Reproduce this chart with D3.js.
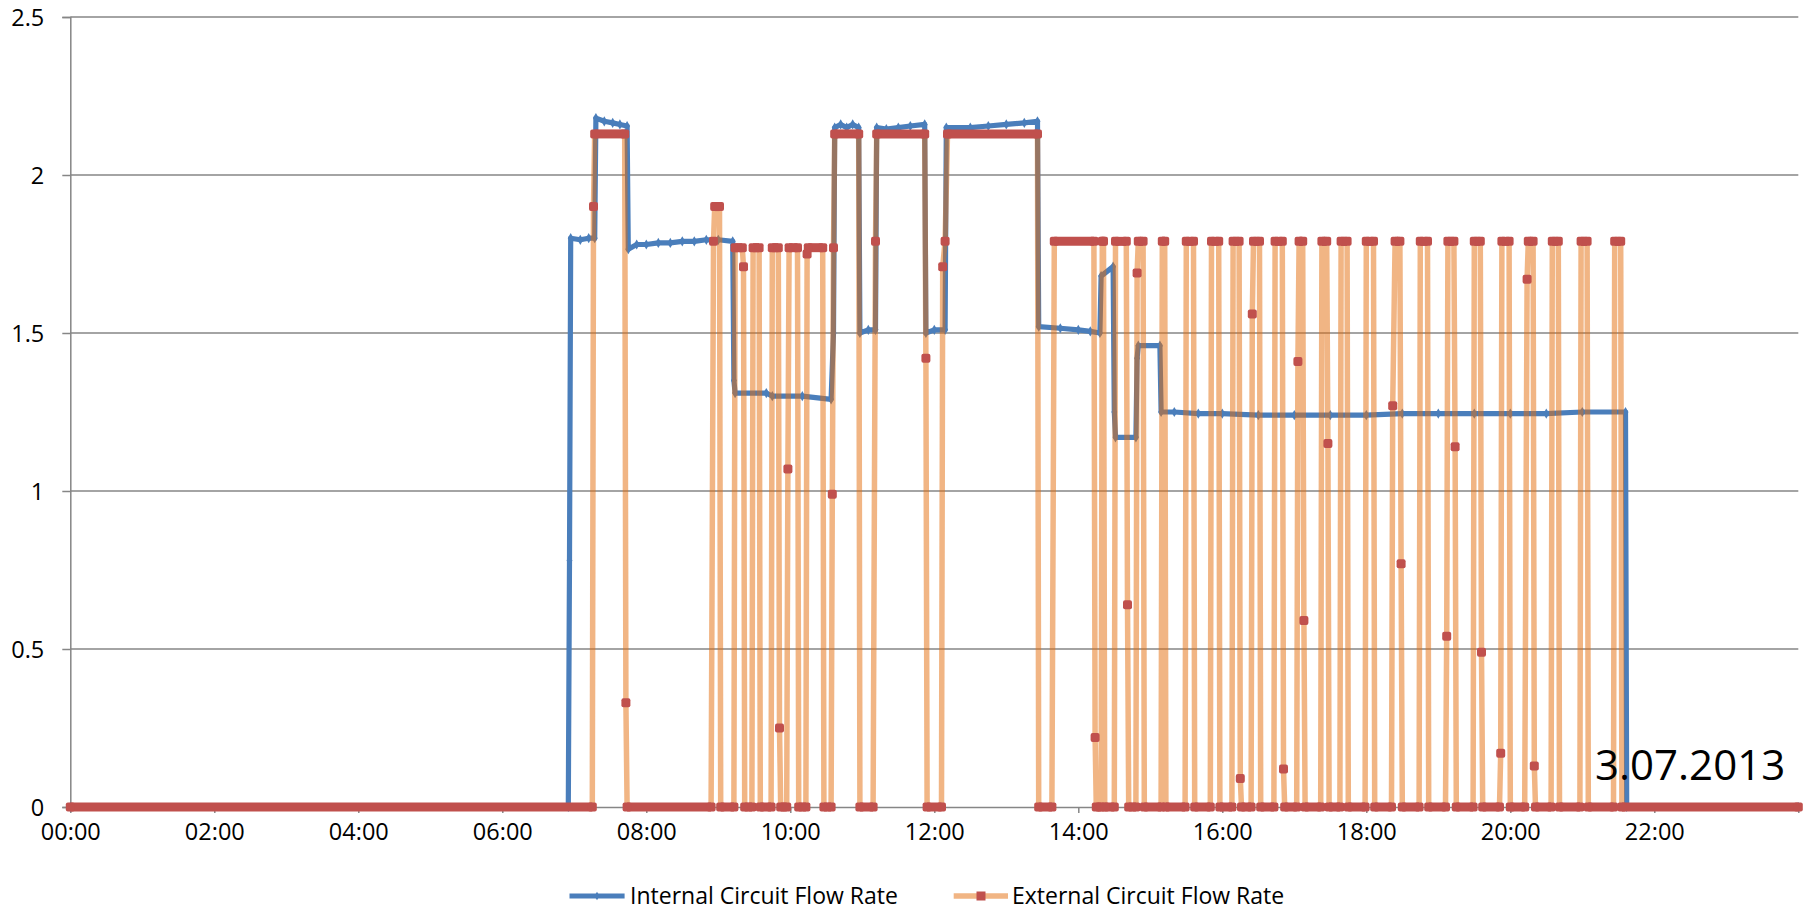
<!DOCTYPE html>
<meta charset="utf-8">
<style>
body { margin: 0; background: #fff; }
svg text { font-family: "Open Sans", sans-serif; fill: #000; }
.axis path, .axis line { stroke: #868686; stroke-width: 1.5px; }
.grid line { stroke: #868686; stroke-width: 1.5px; }
</style>
<body>
<svg width="1808" height="911"></svg>
</body>
<script src="https://cdn.jsdelivr.net/npm/d3@7"></script>
<script>

// Internal circuit flow rate (blue)
var int_times = ["00:00","06:55","06:56","06:57","07:05","07:12","07:17","07:18","07:25","07:32","07:38","07:44","07:45","07:52",
    "08:00","08:10","08:20","08:30","08:40","08:50","09:00","09:12","09:13","09:14","09:40","09:45","10:10","10:34","10:36","10:37",
    "10:42","10:47","10:52","10:57","10:58","11:05","11:11","11:12","11:20","11:30","11:40","11:52","11:53","12:00","12:09","12:10",
    "12:30","12:45","13:00","13:15","13:26","13:27","13:45","14:00","14:10","14:18","14:19","14:29","14:30","14:31","14:48","14:49",
    "14:50","15:08","15:09","15:20","15:40","16:00","16:30","17:00","17:30","18:00","18:30","19:00","19:30","20:00","20:30","21:00",
    "21:36","21:37","24:00"];
var int_values = [0,0,0.78,1.80,1.795,1.80,1.80,2.18,2.17,2.165,2.16,2.155,1.765,1.78,
    1.78,1.785,1.785,1.79,1.79,1.795,1.795,1.79,1.35,1.31,1.31,1.30,1.30,1.29,1.50,2.15,
    2.16,2.15,2.16,2.15,1.50,1.51,1.51,2.15,2.145,2.15,2.155,2.16,1.50,1.51,1.51,2.15,
    2.15,2.155,2.16,2.165,2.17,1.52,1.515,1.51,1.505,1.50,1.68,1.71,1.25,1.17,1.17,1.42,
    1.46,1.46,1.25,1.25,1.245,1.245,1.24,1.24,1.24,1.24,1.245,1.245,1.245,1.245,1.245,1.25,
    1.25,0,0];

// External circuit flow rate (orange line, red markers)
var ext_times = ["00:00",
    "07:15","07:16","07:17","07:42","07:43","07:44",
    "08:54","08:56","08:57","09:01","09:02",
    "09:13","09:14","09:20","09:21","09:22",
    "09:28","09:29","09:34","09:35",
    "09:44","09:45","09:50","09:51","09:52",
    "09:57","09:58","09:59","10:06","10:07",
    "10:13","10:14","10:15","10:27","10:28",
    "10:34","10:35","10:36","10:37","10:57","10:58",
    "11:09","11:11","11:12","11:52","11:53","11:54",
    "12:06","12:07","12:09","12:11","13:26","13:27",
    "13:38","13:40","14:13","14:14","14:15",
    "14:19","14:20","14:21","14:22",
    "14:30","14:31","14:40","14:41","14:42",
    "14:48","14:49","14:50","14:54","14:55",
    "15:09","15:10","15:12","15:13",
    "15:29","15:30","15:36","15:37",
    "15:50","15:51","15:57","15:58",
    "16:08","16:09","16:14","16:15","16:16",
    "16:24","16:25","16:26","16:31","16:32",
    "16:43","16:44","16:50","16:51","16:52",
    "17:02","17:03","17:04","17:07","17:08","17:09",
    "17:22","17:23","17:27","17:28","17:29",
    "17:38","17:39","17:44","17:45",
    "17:59","18:00","18:06","18:07",
    "18:21","18:22","18:24","18:28","18:29","18:30",
    "18:44","18:45","18:51","18:52",
    "19:06","19:07","19:08","19:13","19:14","19:15",
    "19:29","19:30","19:35","19:36","19:37",
    "19:51","19:52","19:53","19:59","20:00",
    "20:12","20:14","20:15","20:19","20:20","20:21",
    "20:34","20:35","20:40","20:41",
    "20:58","20:59","21:04","21:05",
    "21:26","21:27","21:32","21:33",
    "24:00"];
var ext_values = [0,
    0,1.90,2.13,2.13,0.33,0,
    0,1.79,1.90,1.90,0,
    0,1.77,1.77,1.71,0,
    0,1.77,1.77,0,
    0,1.77,1.77,0.25,0,
    0,1.07,1.77,1.77,0,
    0,1.75,1.77,1.77,0,
    0,0.99,1.77,2.13,2.13,0,
    0,1.79,2.13,2.13,1.42,0,
    0,1.71,1.79,2.13,2.13,0,
    0,1.79,1.79,0.22,0,
    0,1.79,1.79,0,
    0,1.79,1.79,0.64,0,
    0,1.69,1.79,1.79,0,
    0,1.79,1.79,0,
    0,1.79,1.79,0,
    0,1.79,1.79,0,
    0,1.79,1.79,0.09,0,
    0,1.56,1.79,1.79,0,
    0,1.79,1.79,0.12,0,
    0,1.41,1.79,1.79,0.59,0,
    0,1.79,1.79,1.15,0,
    0,1.79,1.79,0,
    0,1.79,1.79,0,
    0,1.27,1.79,1.79,0.77,0,
    0,1.79,1.79,0,
    0,0.54,1.79,1.79,1.14,0,
    0,1.79,1.79,0.49,0,
    0,0.17,1.79,1.79,0,
    0,1.67,1.79,1.79,0.13,0,
    0,1.79,1.79,0,
    0,1.79,1.79,0,
    0,1.79,1.79,0,
    0];

var y_ticks = [0, 0.5, 1, 1.5, 2, 2.5];
var series_names = ["Internal Circuit Flow Rate", "External Circuit Flow Rate"];
var date_label = "3.07.2013";

var svg = d3.select("svg");

function to_date(s) {
    var p = s.split(":");
    return new Date(2013, 6, 3, +p[0], +p[1]);
}

var x = d3.scaleTime()
    .domain([to_date("00:00"), to_date("24:00")])
    .range([70.3, 1798.3]);
var y = d3.scaleLinear()
    .domain([0, 2.5])
    .range([807, 17]);

var int_data = int_times.map(function(t, i) { return {t: to_date(t), v: int_values[i]}; });
var ext_data = ext_times.map(function(t, i) { return {t: to_date(t), v: ext_values[i]}; });

// gridlines
svg.append("g").attr("class", "grid")
    .selectAll("line")
    .data(y_ticks.filter(function(d) { return d > 0; }))
    .enter().append("line")
    .attr("x1", x.range()[0])
    .attr("x2", x.range()[1])
    .attr("y1", function(d) { return y(d); })
    .attr("y2", function(d) { return y(d); });

// y axis
var y_axis = svg.append("g").attr("class", "axis")
    .attr("transform", "translate(" + x.range()[0] + ",0)")
    .call(d3.axisLeft(y).tickValues(y_ticks).tickSize(8).tickPadding(18).tickFormat(d3.format("")));
y_axis.selectAll("text").style("font-size", "23.5px").attr("dy", "0.36em");

// x axis
var x_axis = svg.append("g").attr("class", "axis")
    .attr("transform", "translate(0," + y(0) + ")")
    .call(d3.axisBottom(x)
        .ticks(d3.timeHour.every(2))
        .tickSize(6)
        .tickPadding(27)
        .tickSizeOuter(0)
        .tickFormat(function(d) { return d.getDate() == 4 ? "" : d3.timeFormat("%H:%M")(d); }));
x_axis.selectAll("text").style("font-size", "23.5px").attr("dy", "0");

var line = d3.line()
    .x(function(d) { return x(d.t); })
    .y(function(d) { return y(d.v); });

// internal series
svg.append("path")
    .datum(int_data)
    .attr("fill", "none")
    .attr("stroke", "#4A7EBB")
    .attr("stroke-width", 5.2)
    .attr("stroke-linejoin", "round")
    .attr("d", line);

svg.append("g").selectAll("path")
    .data(int_data)
    .enter().append("path")
    .attr("d", d3.symbol().type(d3.symbolDiamond).size(30))
    .attr("transform", function(d) { return "translate(" + x(d.t) + "," + y(d.v) + ")"; })
    .attr("fill", "#4A7EBB");

// external series
svg.append("path")
    .datum(ext_data)
    .attr("fill", "none")
    .attr("stroke", "#E46C0A")
    .attr("stroke-opacity", 0.5)
    .attr("stroke-width", 5.5)
    .attr("stroke-linejoin", "round")
    .attr("d", line);

// runs of equal samples: markers merge into a band
var runs = [];
for (var i = 0; i < ext_data.length - 1; i++) {
    if (ext_data[i].v == ext_data[i + 1].v) runs.push([ext_data[i], ext_data[i + 1]]);
}
svg.append("g").selectAll("line")
    .data(runs)
    .enter().append("line")
    .attr("x1", function(d) { return x(d[0].t); })
    .attr("x2", function(d) { return x(d[1].t); })
    .attr("y1", function(d) { return y(d[0].v); })
    .attr("y2", function(d) { return y(d[1].v); })
    .attr("stroke", "#C0504D")
    .attr("stroke-width", 9);

svg.append("g").selectAll("rect")
    .data(ext_data)
    .enter().append("rect")
    .attr("x", function(d) { return x(d.t) - 4.5; })
    .attr("y", function(d) { return y(d.v) - 4.5; })
    .attr("width", 9)
    .attr("height", 9)
    .attr("rx", 2)
    .attr("fill", "#C0504D");

// date label
svg.append("text")
    .attr("x", 1595)
    .attr("y", 780)
    .style("font-size", "42px")
    .text(date_label);

// legend
var legend = svg.append("g").attr("transform", "translate(0,896)");
legend.append("line")
    .attr("x1", 569.5).attr("x2", 624.6)
    .attr("stroke", "#4A7EBB").attr("stroke-width", 5);
legend.append("path")
    .attr("d", d3.symbol().type(d3.symbolDiamond).size(22))
    .attr("transform", "translate(597,0)")
    .attr("fill", "#4A7EBB");
legend.append("text")
    .attr("x", 630).attr("y", 8)
    .style("font-size", "23px")
    .text(series_names[0]);

legend.append("line")
    .attr("x1", 953.7).attr("x2", 1008)
    .attr("stroke", "#E46C0A").attr("stroke-opacity", 0.5).attr("stroke-width", 5.5);
legend.append("rect")
    .attr("x", 976.5).attr("y", -4.5).attr("width", 9).attr("height", 9)
    .attr("fill", "#C0504D");
legend.append("text")
    .attr("x", 1012).attr("y", 8)
    .style("font-size", "23px")
    .text(series_names[1]);

</script>
